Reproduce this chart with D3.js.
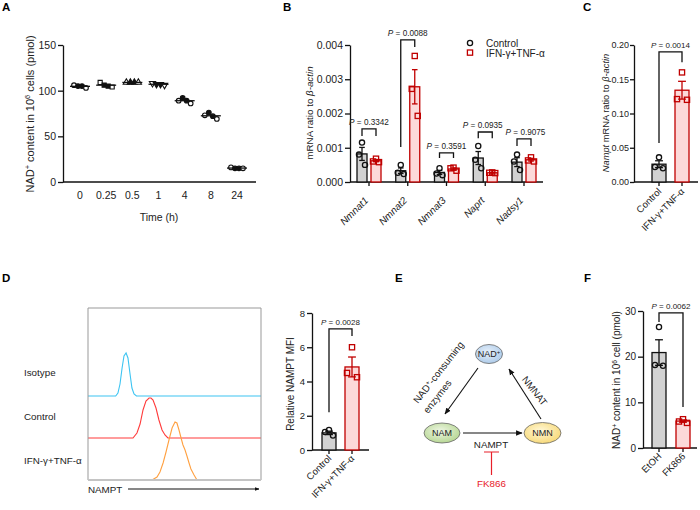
<!DOCTYPE html>
<html><head><meta charset="utf-8">
<script src="https://cdn.jsdelivr.net/npm/d3@7"></script>
<style>body{margin:0;background:#fff}</style>
</head><body>
<script>
// ---------------- DATA ----------------
// Panel A
const timeLabels = ["0","0.25","0.5","1","4","8","24"];
const nadTime = [[106,105,105,103],[109,106,105,104],[109,109,109,109],[108,107,107,106],[89,92,89,86],[73,76,72,69],[16,15,15,15]];
const aTicks = [0,50,100,150];
// Panel B
const genes = ["Nmnat1","Nmnat2","Nmnat3","Naprt","Nadsy1"];
const bCtrlMean = [0.00082,0.00033,0.00028,0.0007,0.00058];
const bCtrlSem  = [0.00019,0.00008,0.00006,0.00019,0.00013];
const bCtrlPts  = [[0.00115,0.0008,0.0005],[0.0005,0.00027,0.00023],[0.0004,0.00025,0.0002],[0.00105,0.00065,0.0004],[0.0008,0.0006,0.00035]];
const bTrtMean  = [0.00062,0.00278,0.00038,0.00027,0.00065];
const bTrtSem   = [0.00003,0.0005,0.00003,0.00001,0.00004];
const bTrtPts   = [[0.00068,0.0006,0.00058],[0.00368,0.00272,0.00193],[0.00042,0.0004,0.00033],[0.00028,0.00027,0.00026],[0.00072,0.00063,0.0006]];
const bPvals    = ["0.3342","0.0088","0.3591","0.0935","0.9075"];
const bBracket  = [[0.00155,0.00134,0.00134],[0.00415,0.00102,0.00394],[0.00085,0.0007,0.0007],[0.00146,0.00128,0.00128],[0.00126,0.00105,0.00105]];
const bTicks = [0,0.001,0.002,0.003,0.004];
// Panel C
const twoGroups = ["Control","IFN-γ+TNF-α"];
const cMean = [0.026,0.134], cSem = [0.005,0.013];
const cPts = [[0.036,0.022,0.020],[0.16,0.121,0.12]];
const cP = "0.0014", cBracket = [0.19,0.057,0.175];
const cTicks = [0,0.05,0.1,0.15,0.2];
// Panel D histograms (NAMPT intensity a.u. 0-100, counts)
const histRows = ["Isotype","Control","IFN-γ+TNF-α"];
const isoX = [0,16,17.3,18.5,19.7,20.8,22,23.1,24.3,25.4,26.6,28,100];
const isoY = [0,0,3,12,28,40,43,38,22,8,2,0,0];
const ctlX = [0,26,28.3,30.1,31.8,33.5,35.3,36.4,37.6,39.3,41,42.8,44.5,46.2,100];
const ctlY = [0,0,5,14,28,37,40,40,38,30,18,8,3,0,0];
const ifnX = [37,39.9,41.6,43.4,45.1,46.8,48.6,50.3,51.4,52.6,53.8,54.9,56.1,57.2,58.4,59.5,61.3,63];
const ifnY = [0,3,8,17,28,40,52,58,57,50,42,35,30,24,17,11,5,0];
// Panel D bar chart
const dMean = [1.0,4.85], dSem = [0.1,0.58];
const dPts = [[1.17,1.05,0.85],[6.0,4.5,4.25]];
const dP = "0.0028", dBracket = [7.07,2.2,6.65];
const dTicks = [0,2,4,6,8];
// Panel F
const fGroups = ["EtOH","FK866"];
const fMean = [20.9,5.9], fSem = [2.8,0.25];
const fPts = [[26.5,18.2,18.0],[6.3,5.8,5.5]];
const fP = "0.0062", fBracket = [29.6,27.6,9.0];
const fTicks = [0,10,20,30];

// ---------------- DRAWING ----------------
const FONT = '"Liberation Sans", Arial, Helvetica, sans-serif';
const RED = "#c00000", PINK = "#fcd9d9", GREY = "#d2d2d2";
const svg = d3.select("body").append("svg").attr("width",700).attr("height",510)
  .style("font-family",FONT);

function letter(t,x,y){ svg.append("text").attr("x",x).attr("y",y).attr("font-size",11.5).attr("font-weight","bold").text(t); }

function yAxis(scale,x,ticks,fmt,fs,ts,tp){
  const g = svg.append("g").attr("transform",`translate(${x},0)`)
    .call(d3.axisLeft(scale).tickValues(ticks).tickFormat(fmt).tickSize(ts||5).tickPadding(tp===undefined?2:tp).tickSizeOuter(0));
  g.select(".domain").attr("stroke","#111").attr("stroke-width",1.3);
  g.selectAll(".tick line").attr("stroke","#111").attr("stroke-width",1.3);
  g.selectAll(".tick text").attr("font-size",fs||10).attr("font-family",FONT).attr("fill","#222");
  return g;
}
function xLine(x0,x1,y,ticksX){
  svg.append("line").attr("x1",x0).attr("x2",x1).attr("y1",y).attr("y2",y).attr("stroke","#111").attr("stroke-width",1.3);
  (ticksX||[]).forEach(t=>svg.append("line").attr("x1",t).attr("x2",t).attr("y1",y).attr("y2",y+4).attr("stroke","#111").attr("stroke-width",1.3));
}
function yLabel(x,y,parts,fs){
  const t = svg.append("text").attr("transform",`translate(${x},${y}) rotate(-90)`).attr("text-anchor","middle").attr("font-size",fs||9.5).attr("fill","#222");
  parts.forEach(([s,k])=>{
    const ts = t.append("tspan").text(s);
    if(k==="i") ts.attr("font-style","italic");
    if(k==="s") ts.attr("font-size",(fs||9.5)*0.68).attr("baseline-shift","super");
  });
}
function rotLabels(scale,cats,y,dx,italic,size){
  cats.forEach(c=>{
    svg.append("text").attr("transform",`translate(${scale(c)+dx},${y}) rotate(-45)`)
      .attr("text-anchor","end").attr("font-size",size||9.5).attr("fill","#222")
      .attr("font-style",italic?"italic":"normal").text(c);
  });
}
function bar(cx,w,mean,sem,pts,yS,stroke,fill,shape,jit){
  svg.append("rect").attr("x",cx-w/2).attr("y",yS(mean)).attr("width",w).attr("height",yS(0)-yS(mean))
    .attr("fill",fill).attr("stroke",stroke).attr("stroke-width",1.3);
  const hi=yS(mean+sem), lo=yS(mean-sem), cw=w*0.28;
  svg.append("line").attr("x1",cx).attr("x2",cx).attr("y1",hi).attr("y2",lo).attr("stroke",stroke).attr("stroke-width",1.3);
  [hi,lo].forEach(v=>svg.append("line").attr("x1",cx-cw).attr("x2",cx+cw).attr("y1",v).attr("y2",v).attr("stroke",stroke).attr("stroke-width",1.3));
  const offs=[0,-jit,jit];
  pts.forEach((v,i)=>{
    if(shape==="c") svg.append("circle").attr("cx",cx+offs[i]).attr("cy",yS(v)).attr("r",2.6)
      .attr("fill","none").attr("stroke","#111").attr("stroke-width",1.3);
    else svg.append("rect").attr("x",cx+offs[i]-2.6).attr("y",yS(v)-2.6).attr("width",5.2).attr("height",5.2)
      .attr("fill","none").attr("stroke",stroke).attr("stroke-width",1.3);
  });
}
function bracket(x1,x2,yS,br,p,fs,tdx){
  const yt=yS(br[0]);
  svg.append("path").attr("d",`M${x1},${yS(br[1])}V${yt}H${x2}V${yS(br[2])}`).attr("fill","none").attr("stroke","#111").attr("stroke-width",1.3);
  const t=svg.append("text").attr("x",(x1+x2)/2+(tdx||0)).attr("y",yt-4).attr("text-anchor","middle").attr("font-size",fs||8.5).attr("fill","#222");
  t.append("tspan").attr("font-style","italic").text("P");
  t.append("tspan").text(" = "+p);
}

// ===== Panel A =====
letter("A",2,11);
const yA = d3.scaleLinear([0,150],[182,45]);
const xA = d3.scalePoint(timeLabels,[80,237]);
yAxis(yA,63,aTicks,d3.format("d"),10.5);
xLine(63,256,182);
timeLabels.forEach(t=>svg.append("text").attr("x",xA(t)).attr("y",199).attr("text-anchor","middle").attr("font-size",10.5).attr("fill","#222").text(t));
svg.append("text").attr("x",159).attr("y",221).attr("text-anchor","middle").attr("font-size",10.5).attr("fill","#222").text("Time (h)");
yLabel(34,114,[["NAD","n"],["+","s"],[" content in 10","n"],["6","s"],[" cells (pmol)","n"]],11);
const shapes=[d3.symbolCircle,d3.symbolSquare,d3.symbolTriangle,d3.symbolTriangle,d3.symbolCircle,d3.symbolCircle,d3.symbolCircle];
const aOff=[-6,-2,2,6], aFill=[false,true,true,false];
nadTime.forEach((vals,gi)=>{
  const cx=xA(timeLabels[gi]);
  const m=d3.mean(vals);
  vals.forEach((v,i)=>{
    svg.append("path").attr("d",d3.symbol(shapes[gi],17)())
      .attr("transform",`translate(${cx+aOff[i]},${yA(v)})${gi===3?" rotate(180)":""}`)
      .attr("fill",aFill[i]?"#111":"#fff").attr("stroke","#111").attr("stroke-width",1.1);
  });
  svg.append("line").attr("x1",cx-10).attr("x2",cx+10).attr("y1",yA(m)).attr("y2",yA(m)).attr("stroke","#111").attr("stroke-width",1.3);
});

// ===== Panel B =====
letter("B",283,11);
const yB = d3.scaleLinear([0,0.004],[182,45]);
const xB = d3.scalePoint(genes,[369,524]);
yAxis(yB,350,bTicks,d3.format(".3f"),10.5);
xLine(350,543,182,genes.map(g=>xB(g)));
yLabel(313,113,[["mRNA ratio to ","n"],["β-actin","i"]],9.8);
const bTextDx=[0,0,0,-2.5,1.5];
genes.forEach((g,i)=>{
  const cx=xB(g);
  bar(cx-7,10,bCtrlMean[i],bCtrlSem[i],bCtrlPts[i],yB,"#111",GREY,"c",3);
  bar(cx+7,10,bTrtMean[i],bTrtSem[i],bTrtPts[i],yB,RED,PINK,"s",3);
  bracket(cx-7,cx+7,yB,bBracket[i],bPvals[i],8.2,bTextDx[i]);
});
rotLabels(xB,genes,201,0,true,10);
// legend
svg.append("circle").attr("cx",470).attr("cy",43).attr("r",2.6).attr("fill","none").attr("stroke","#111").attr("stroke-width",1.3);
svg.append("rect").attr("x",467.4).attr("y",50).attr("width",5.2).attr("height",5.2).attr("fill","none").attr("stroke",RED).attr("stroke-width",1.3);
svg.append("text").attr("x",486).attr("y",46.5).attr("font-size",10).attr("fill","#222").text("Control");
svg.append("text").attr("x",486).attr("y",56.5).attr("font-size",10).attr("fill","#222").text("IFN-γ+TNF-α");

// ===== Panel C =====
letter("C",583,11);
const yC = d3.scaleLinear([0,0.2],[182,45]);
const xC = d3.scalePoint(twoGroups,[659,682]);
yAxis(yC,634,cTicks,d3.format(".2f"),9,4,1);
xLine(634,698,182,twoGroups.map(g=>xC(g)));
yLabel(609,113,[["Nampt","i"],[" mRNA ratio to ","n"],["β-actin","i"]],9.3);
bar(xC(twoGroups[0]),14,cMean[0],cSem[0],cPts[0],yC,"#111",GREY,"c",4);
bar(xC(twoGroups[1]),14,cMean[1],cSem[1],cPts[1],yC,RED,PINK,"s",5);
bracket(xC(twoGroups[0]),xC(twoGroups[1]),yC,cBracket,cP,8);
rotLabels(xC,twoGroups,192,3,false,9.5);

// ===== Panel D histograms =====
letter("D",2,282);
const hx = d3.scaleLinear([0,100],[88,261]);
const hy = d3.scaleLinear([0,1],[0,-1]);
const rowBase=[396,438,480];
const line=(X,Y,base)=>d3.line().x((d,i)=>hx(X[i])).y((d,i)=>base+hy(Y[i]))(X);
svg.append("path").attr("d",line(isoX,isoY,rowBase[0])).attr("fill","none").attr("stroke","#3cc4f2").attr("stroke-width",1.1);
svg.append("path").attr("d",line(ctlX,ctlY,rowBase[1])).attr("fill","none").attr("stroke","#ff3b3b").attr("stroke-width",1.1);
svg.append("path").attr("d",line(ifnX,ifnY,rowBase[2])).attr("fill","none").attr("stroke","#ffa040").attr("stroke-width",1.1);
svg.append("path").attr("d",`M88,480V308H261V480`).attr("fill","none").attr("stroke","#999").attr("stroke-width",1);
svg.append("line").attr("x1",88).attr("x2",261).attr("y1",480).attr("y2",480).attr("stroke","#c4c4c4").attr("stroke-width",2);
[376,420,464].forEach((y,i)=>svg.append("text").attr("x",24).attr("y",y).attr("font-size",9.8).attr("fill","#222").text(histRows[i]));
svg.append("text").attr("x",88).attr("y",492.5).attr("font-size",9.8).attr("fill","#222").text("NAMPT");
const defs=svg.append("defs");
defs.append("marker").attr("id","ah").attr("viewBox","0 0 10 10").attr("refX",9).attr("refY",5)
  .attr("markerWidth",6).attr("markerHeight",6).attr("orient","auto")
  .append("path").attr("d","M0,1L10,5L0,9z").attr("fill","#111");
defs.append("marker").attr("id","ah2").attr("viewBox","0 0 10 10").attr("refX",9).attr("refY",5)
  .attr("markerWidth",4).attr("markerHeight",4).attr("orient","auto")
  .append("path").attr("d","M0,1L10,5L0,9z").attr("fill","#111");
svg.append("line").attr("x1",128).attr("x2",259).attr("y1",489).attr("y2",489).attr("stroke","#111").attr("stroke-width",1.2).attr("marker-end","url(#ah2)");

// ===== Panel D bar chart =====
const yD = d3.scaleLinear([0,8],[450,313]);
const xD = d3.scalePoint(twoGroups,[329,352]);
yAxis(yD,312,dTicks,d3.format("d"),9.5);
xLine(312,369,450,twoGroups.map(g=>xD(g)));
yLabel(294,384,[["Relative NAMPT MFI","n"]],10);
bar(xD(twoGroups[0]),14,dMean[0],dSem[0],dPts[0],yD,"#111",GREY,"c",4);
bar(xD(twoGroups[1]),14,dMean[1],dSem[1],dPts[1],yD,RED,PINK,"s",5);
bracket(xD(twoGroups[0]),xD(twoGroups[1]),yD,dBracket,dP,8);
rotLabels(xD,twoGroups,459,3,false,9.5);

// ===== Panel E =====
letter("E",395,282);
const grad=(id,c0,c1)=>{const g=defs.append("radialGradient").attr("id",id).attr("cx","45%").attr("cy","40%").attr("r","65%");
  g.append("stop").attr("offset","0%").attr("stop-color",c0); g.append("stop").attr("offset","100%").attr("stop-color",c1);};
grad("gb","#e8f1fb","#a9c8e8"); grad("gg","#eef6e4","#b3d58e"); grad("gy","#fff8d8","#f7d772");
const nodes=[{t:"NAD",s:"+",x:489,y:354,rx:13.5,ry:9.5,f:"gb"},{t:"NAM",x:442,y:433,rx:18,ry:10,f:"gg"},{t:"NMN",x:542.5,y:433,rx:18.5,ry:10.5,f:"gy"}];
nodes.forEach(n=>{
  svg.append("ellipse").attr("cx",n.x).attr("cy",n.y).attr("rx",n.rx).attr("ry",n.ry).attr("fill",`url(#${n.f})`).attr("stroke","#666").attr("stroke-width",0.8);
  const t=svg.append("text").attr("x",n.x).attr("y",n.y+3.3).attr("text-anchor","middle").attr("font-size",9).attr("fill","#222");
  t.append("tspan").text(n.t);
  if(n.s) t.append("tspan").attr("font-size",6).attr("baseline-shift","super").text(n.s);
});
const arrow=(x1,y1,x2,y2)=>svg.append("line").attr("x1",x1).attr("y1",y1).attr("x2",x2).attr("y2",y2).attr("stroke","#111").attr("stroke-width",1.1).attr("marker-end","url(#ah)");
arrow(478,368,445,414);
arrow(541,419,509,369);
arrow(463,433,522,433);
const t1=svg.append("text").attr("transform","translate(418,404) rotate(-52)").attr("font-size",9.8).attr("fill","#222");
t1.append("tspan").text("NAD");
t1.append("tspan").attr("font-size",6.5).attr("baseline-shift","super").text("+");
t1.append("tspan").text("-consuming");
svg.append("text").attr("transform","translate(428,414) rotate(-52)").attr("font-size",9.8).attr("fill","#222").text("enzymes");
svg.append("text").attr("transform","translate(532,393) rotate(52)").attr("text-anchor","middle").attr("font-size",9.8).attr("fill","#222").text("NMNAT");
svg.append("text").attr("x",491).attr("y",448).attr("text-anchor","middle").attr("font-size",9.8).attr("fill","#222").text("NAMPT");
svg.append("path").attr("d","M484,452H499M491.5,452V475").attr("stroke","#e8202a").attr("stroke-width",1.2).attr("fill","none");
svg.append("text").attr("x",491.5).attr("y",487).attr("text-anchor","middle").attr("font-size",9.8).attr("fill","#e8202a").text("FK866");

// ===== Panel F =====
letter("F",584,282);
const yF = d3.scaleLinear([0,30],[448,311]);
const xF = d3.scalePoint(fGroups,[659,683]);
yAxis(yF,643,fTicks,d3.format("d"),10);
xLine(643,697,448,fGroups.map(g=>xF(g)));
yLabel(620,380,[["NAD","n"],["+","s"],[" content in 10","n"],["6","s"],[" cell (pmol)","n"]],10);
bar(xF(fGroups[0]),14,fMean[0],fSem[0],fPts[0],yF,"#111",GREY,"c",4);
bar(xF(fGroups[1]),14,fMean[1],fSem[1],fPts[1],yF,RED,PINK,"s",4);
bracket(xF(fGroups[0]),xF(fGroups[1]),yF,fBracket,fP,8);
rotLabels(xF,fGroups,457,3,false,9.5);
</script>
</body></html>
